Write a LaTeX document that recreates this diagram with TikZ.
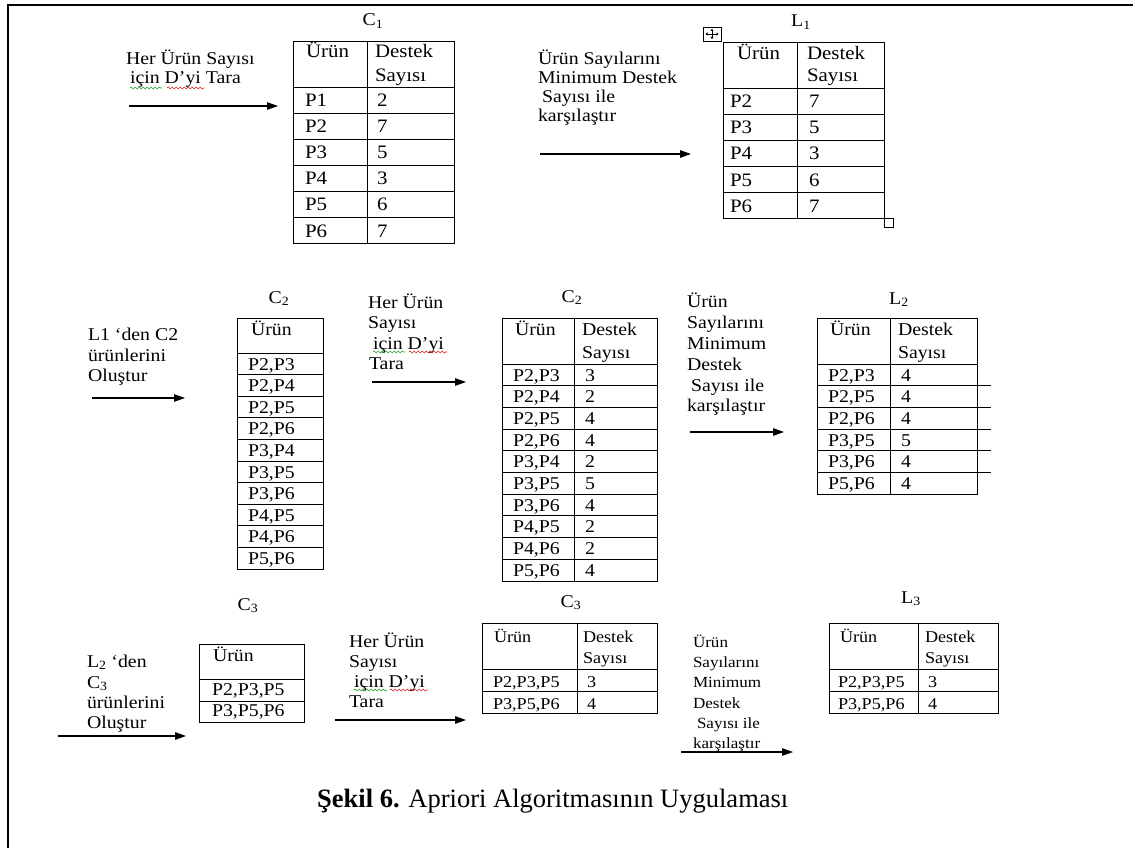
\documentclass[tikz,border=0pt]{standalone}
\usepackage{fontspec}
\setmainfont{Liberation Serif}
\newfontfamily\wf[FakeStretch=1.1]{Liberation Serif}
\usetikzlibrary{arrows.meta,decorations.pathmorphing}
\definecolor{sqgreen}{RGB}{40,160,40}
\definecolor{sqred}{RGB}{220,30,30}
\newcommand\trow[7]{\node[#1] (#2a) at (#3,#5) {#6}; \node[#1] (#2b) at (#4,#5) {#7};}
\begin{document}
\begin{tikzpicture}[x=1pt,y=-1pt,
  tbl/.style={draw=black,line width=0.9pt},
  ar/.style={line width=1.1pt,-{Triangle[length=11pt,width=7.5pt]}},
  tx/.style={anchor=base west,inner sep=0pt,outer sep=0pt},
  t17/.style={tx,font=\wf\fontsize{19}{22}\selectfont},
  t16/.style={tx,font=\wf\fontsize{18}{21}\selectfont},
  t15/.style={tx,font=\wf\fontsize{16.5}{19}\selectfont},
  t14/.style={tx,font=\wf\fontsize{15.5}{18}\selectfont},
  ttl/.style={anchor=base,inner sep=0pt,font=\wf\fontsize{18}{21}\selectfont},
  sq/.style={line width=0.6pt,decorate,decoration={snake,segment length=4pt,amplitude=1pt}}]
\useasboundingbox (0,0) rectangle (1133,848);
\fill[white] (0,0) rectangle (1133,848);
% frame
\draw[line width=2pt] (8,848) -- (8,5) -- (1133,5);

% ---------- C1 ----------
\node[ttl] (c1t) at (373,26) {C\textsubscript{1}};
\draw[tbl] (293,41) rectangle (454,243);
\draw[tbl] (367,41) -- (367,243);
\foreach \y in {87,113,139,165,191,217} \draw[tbl] (293,\y) -- (454,\y);
\node[t17] (c1h1) at (306,58) {Ürün};
\node[t17] (c1h2) at (375,58) {Destek};
\node[t17] (c1h3) at (375,82) {Sayısı};
\trow{t17}{c1r1}{305}{377}{107}{P1}{2}
\trow{t17}{c1r2}{305}{377}{133}{P2}{7}
\trow{t17}{c1r3}{305}{377}{159}{P3}{5}
\trow{t17}{c1r4}{305}{377}{185}{P4}{3}
\trow{t17}{c1r5}{305}{377}{211}{P5}{6}
\trow{t17}{c1r6}{305}{377}{237}{P6}{7}

% label + arrow 1
\node[t16] (la1) at (126,65) {Her Ürün Sayısı};
\node[t16] (la2) at (130,84) {için D’yi Tara};
\draw[sq,sqgreen] (130,88) -- (162,88);
\draw[sq,sqred] (167,88) -- (204,88);
\coordinate (a1s) at (129,106); \coordinate (a1e) at (278,106);
\draw[ar] (a1s) -- (a1e);

% label + arrow 2
\node[t16] (lb1) at (538,65) {Ürün Sayılarını};
\node[t16] (lb2) at (538,84) {Minimum Destek};
\node[t16] (lb3) at (542,103) {Sayısı ile};
\node[t16] (lb4) at (538,122) {karşılaştır};
\coordinate (a2s) at (540,154); \coordinate (a2e) at (691,154);
\draw[ar] (a2s) -- (a2e);

% ---------- L1 ----------
\node[ttl] (l1t) at (801,27) {L\textsubscript{1}};
\draw[tbl] (723,42) rectangle (884,218);
\draw[tbl] (797,42) -- (797,218);
\foreach \y in {88,114,140,166,192} \draw[tbl] (723,\y) -- (884,\y);
\node[t17] (l1h1) at (737,60) {Ürün};
\node[t17] (l1h2) at (807,60) {Destek};
\node[t17] (l1h3) at (807,82) {Sayısı};
\trow{t17}{l1r1}{730}{809}{108}{P2}{7}
\trow{t17}{l1r2}{730}{809}{134}{P3}{5}
\trow{t17}{l1r3}{730}{809}{160}{P4}{3}
\trow{t17}{l1r4}{730}{809}{186}{P5}{6}
\trow{t17}{l1r5}{730}{809}{212}{P6}{7}
% table handles
\draw[line width=0.8pt,fill=white] (703,27) rectangle (721,41);
\draw[line width=0.7pt,{Triangle[length=2pt,width=3pt]}-{Triangle[length=2pt,width=3pt]}] (712,29) -- (712,39);
\draw[line width=0.7pt,{Triangle[length=2pt,width=3pt]}-{Triangle[length=2pt,width=3pt]}] (705.5,34) -- (718.5,34);
\draw[line width=0.8pt,fill=white] (884,218) rectangle (893,227);

% ---------- C2 (first) ----------
\node[ttl] (c2t) at (279,303) {C\textsubscript{2}};
\draw[tbl] (237,318) rectangle (323,569);
\foreach \i in {0,...,9} \draw[tbl] (237,{353+21.6*\i}) -- (323,{353+21.6*\i});
\node[t16] (c2h1) at (251,335) {Ürün};
\node[t16] (c2r1) at (248,370) {P2,P3};
\node[t16] (c2r2) at (248,391.6) {P2,P4};
\node[t16] (c2r3) at (248,413.2) {P2,P5};
\node[t16] (c2r4) at (248,434.8) {P2,P6};
\node[t16] (c2r5) at (248,456.4) {P3,P4};
\node[t16] (c2r6) at (248,478) {P3,P5};
\node[t16] (c2r7) at (248,499.6) {P3,P6};
\node[t16] (c2r8) at (248,521.2) {P4,P5};
\node[t16] (c2r9) at (248,542.8) {P4,P6};
\node[t16] (c2r10) at (248,564.4) {P5,P6};

% label + arrow 3
\node[t16] (lc1) at (88,340) {L1 ‘den C2};
\node[t16] (lc2) at (88,361) {ürünlerini};
\node[t16] (lc3) at (88,381) {Oluştur};
\coordinate (a3s) at (92,398); \coordinate (a3e) at (185,398);
\draw[ar] (a3s) -- (a3e);

% label + arrow 4
\node[t16] (ld1) at (368,308) {Her Ürün};
\node[t16] (ld2) at (368,328) {Sayısı};
\node[t16] (ld3) at (373,349) {için D’yi};
\node[t16] (ld4) at (369,369) {Tara};
\draw[sq,sqgreen] (373,352) -- (405,352);
\draw[sq,sqred] (409,352) -- (447,352);
\coordinate (a4s) at (372,382); \coordinate (a4e) at (466,382);
\draw[ar] (a4s) -- (a4e);

% ---------- C2 (second) ----------
\node[ttl] (c2bt) at (572,302) {C\textsubscript{2}};
\draw[tbl] (502,318) rectangle (657,581);
\draw[tbl] (574,318) -- (574,581);
\foreach \i in {0,...,9} \draw[tbl] (502,{364+21.7*\i}) -- (657,{364+21.7*\i});
\node[t16] (c2bh1) at (515,335) {Ürün};
\node[t16] (c2bh2) at (582,335) {Destek};
\node[t16] (c2bh3) at (582,358) {Sayısı};
\trow{t16}{c2br1}{513}{585}{381}{P2,P3}{3}
\trow{t16}{c2br2}{513}{585}{402.7}{P2,P4}{2}
\trow{t16}{c2br3}{513}{585}{424.4}{P2,P5}{4}
\trow{t16}{c2br4}{513}{585}{446.1}{P2,P6}{4}
\trow{t16}{c2br5}{513}{585}{467.8}{P3,P4}{2}
\trow{t16}{c2br6}{513}{585}{489.5}{P3,P5}{5}
\trow{t16}{c2br7}{513}{585}{511.2}{P3,P6}{4}
\trow{t16}{c2br8}{513}{585}{532.9}{P4,P5}{2}
\trow{t16}{c2br9}{513}{585}{554.6}{P4,P6}{2}
\trow{t16}{c2br10}{513}{585}{576.3}{P5,P6}{4}

% label + arrow 5
\node[t16] (le1) at (687,307) {Ürün};
\node[t16] (le2) at (687,328) {Sayılarını};
\node[t16] (le3) at (687,349) {Minimum};
\node[t16] (le4) at (687,370) {Destek};
\node[t16] (le5) at (691,391) {Sayısı ile};
\node[t16] (le6) at (687,411) {karşılaştır};
\coordinate (a5s) at (690,432); \coordinate (a5e) at (784,432);
\draw[ar] (a5s) -- (a5e);

% ---------- L2 ----------
\node[ttl] (l2t) at (899,304) {L\textsubscript{2}};
\draw[tbl] (817,318) rectangle (977,494);
\draw[tbl] (890,318) -- (890,494);
\foreach \i in {0,...,5} \draw[tbl] (817,{364+21.7*\i}) -- (977,{364+21.7*\i});
\foreach \i in {1,...,5} \draw[tbl] (977,{364+21.7*\i}) -- (991,{364+21.7*\i});
\node[t16] (l2h1) at (830,335) {Ürün};
\node[t16] (l2h2) at (898,335) {Destek};
\node[t16] (l2h3) at (898,358) {Sayısı};
\trow{t16}{l2r1}{828}{901}{381}{P2,P3}{4}
\trow{t16}{l2r2}{828}{901}{402.7}{P2,P5}{4}
\trow{t16}{l2r3}{828}{901}{424.4}{P2,P6}{4}
\trow{t16}{l2r4}{828}{901}{446.1}{P3,P5}{5}
\trow{t16}{l2r5}{828}{901}{467.8}{P3,P6}{4}
\trow{t16}{l2r6}{828}{901}{489.5}{P5,P6}{4}

% ---------- C3 (first) ----------
\node[ttl] (c3t) at (248,610) {C\textsubscript{3}};
\draw[tbl] (199,644) rectangle (304,722);
\draw[tbl] (199,679) -- (304,679);
\draw[tbl] (199,701) -- (304,701);
\node[t16] (c3h1) at (213,661) {Ürün};
\node[t16] (c3r1) at (212,695) {P2,P3,P5};
\node[t16] (c3r2) at (212,716.5) {P3,P5,P6};

% label + arrow 6
\node[t16] (lf1) at (87,667) {L\textsubscript{2} ‘den};
\node[t16] (lf2) at (87,688) {C\textsubscript{3}};
\node[t16] (lf3) at (87,708) {ürünlerini};
\node[t16] (lf4) at (87,728) {Oluştur};
\coordinate (a6s) at (58,736); \coordinate (a6e) at (186,736);
\draw[ar] (a6s) -- (a6e);

% label + arrow 7
\node[t16] (lg1) at (349,647) {Her Ürün};
\node[t16] (lg2) at (349,667) {Sayısı};
\node[t16] (lg3) at (354,687) {için D’yi};
\node[t16] (lg4) at (349,707) {Tara};
\draw[sq,sqgreen] (354,690) -- (387,690);
\draw[sq,sqred] (390,690) -- (428,690);
\coordinate (a7s) at (335,720); \coordinate (a7e) at (466,720);
\draw[ar] (a7s) -- (a7e);

% ---------- C3 (second) ----------
\node[ttl] (c3bt) at (571,607) {C\textsubscript{3}};
\draw[tbl] (482,623) rectangle (657,713);
\draw[tbl] (577,623) -- (577,713);
\draw[tbl] (482,669) -- (657,669);
\draw[tbl] (482,691) -- (657,691);
\node[t15] (c3bh1) at (494,642) {Ürün};
\node[t15] (c3bh2) at (583,642) {Destek};
\node[t15] (c3bh3) at (583,663) {Sayısı};
\trow{t15}{c3br1}{493}{587}{687}{P2,P3,P5}{3}
\trow{t15}{c3br2}{493}{587}{709}{P3,P5,P6}{4}

% label + arrow 8
\node[t14] (lh1) at (693,647) {Ürün};
\node[t14] (lh2) at (693,667) {Sayılarını};
\node[t14] (lh3) at (693,687) {Minimum};
\node[t14] (lh4) at (693,708) {Destek};
\node[t14] (lh5) at (697,728) {Sayısı ile};
\node[t14] (lh6) at (693,748) {karşılaştır};
\coordinate (a8s) at (681,752); \coordinate (a8e) at (793,752);
\draw[ar] (a8s) -- (a8e);

% ---------- L3 ----------
\node[ttl] (l3t) at (911,603) {L\textsubscript{3}};
\draw[tbl] (829,623) rectangle (998,713);
\draw[tbl] (918,623) -- (918,713);
\draw[tbl] (829,669) -- (998,669);
\draw[tbl] (829,691) -- (998,691);
\node[t15] (l3h1) at (840,642) {Ürün};
\node[t15] (l3h2) at (925,642) {Destek};
\node[t15] (l3h3) at (925,663) {Sayısı};
\trow{t15}{l3r1}{838}{928}{687}{P2,P3,P5}{3}
\trow{t15}{l3r2}{838}{928}{709}{P3,P5,P6}{4}

% caption
\node[anchor=base west,inner sep=0pt,font=\fontsize{26.5}{31}\selectfont] (cap) at (317,807) {\textbf{Şekil 6.} Apriori Algoritmasının Uygulaması};
\end{tikzpicture}
\end{document}
